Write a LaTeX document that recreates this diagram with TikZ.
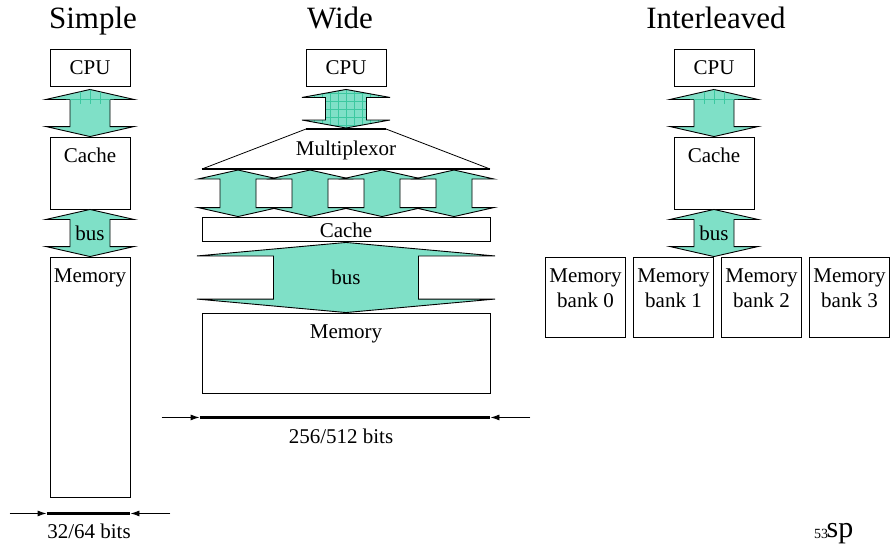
\documentclass[tikz,border=0pt]{standalone}
\usepackage{fontspec}
\setmainfont{Liberation Serif}
\usetikzlibrary{calc,arrows.meta}
\definecolor{busteal}{RGB}{127,224,199}
\definecolor{gridteal}{RGB}{60,200,160}

% Outline of a fat double-headed bus arrow running down from #1 to #2.
% #3 = half shaft width, #4 = half head width, #5 = head length (all in pt).
\newcommand\fatpath[5]{let \p1=(#1), \p2=(#2) in
  (\p1) -- (\x1+#4pt,\y1-#5pt) -- (\x1+#3pt,\y1-#5pt) -- (\x1+#3pt,\y2+#5pt)
  -- (\x1+#4pt,\y2+#5pt) -- (\x1,\y2) -- (\x1-#4pt,\y2+#5pt) -- (\x1-#3pt,\y2+#5pt)
  -- (\x1-#3pt,\y1-#5pt) -- (\x1-#4pt,\y1-#5pt) -- cycle}
\newcommand\fatarrow[5]{\draw[busarrow] \fatpath{#1}{#2}{#3}{#4}{#5};}

\begin{document}
\begin{tikzpicture}[x=1pt,y=-1pt,
  box/.style={draw,line width=0.9pt,fill=white,inner sep=0pt,minimum width=80pt,
              font=\fontsize{21}{25}\selectfont},
  lbl/.style={font=\fontsize{21}{25}\selectfont,anchor=base,inner sep=0pt},
  heading/.style={font=\fontsize{31}{36}\selectfont,anchor=base,inner sep=0pt},
  busarrow/.style={draw,line width=0.9pt,fill=busteal,line join=miter},
  gridline/.style={gridteal,line width=0.5pt},
  dimline/.style={line width=2.4pt},
  dimarrow/.style={line width=0.9pt,-{Latex[length=9pt,width=6pt]}}]

\useasboundingbox (0,0) rectangle (890,552);

% ---------------- Simple ----------------
\node[heading] (tA) at (93,28) {Simple};
\node[box,minimum height=37pt] (cpuA) at (90,67.5) {CPU};
\node[box,minimum height=72pt] (cacheA) at (90,173) {};
\node[lbl] at ($(cacheA.north)+(0,26)$) {Cache};
\node[box,minimum height=240pt] (memA) at (90,377) {};
\node[lbl] at ($(memA.north)+(0,26)$) {Memory};

\fatarrow{$(cpuA.south)+(0,3)$}{cacheA.north}{20}{44}{10}
\begin{scope}
  \clip (40,85) rectangle (140,104);
  \clip \fatpath{$(cpuA.south)+(0,3)$}{cacheA.north}{20}{44}{10};
  \foreach \gx in {80,90,100} \draw[gridline] (\gx,88) -- (\gx,104);
  \draw[gridline] (66,99) -- (114,99);
\end{scope}
\fatarrow{cacheA.south}{memA.north}{20}{44}{10}
\node[lbl] at (90,240) {bus};

\coordinate (dAL) at ($(memA.south west)+(-3,16)$);
\coordinate (dAR) at ($(memA.south east)+(0,16)$);
\coordinate (dALo) at ($(dAL)+(-37,0)$);
\coordinate (dARo) at ($(dAR)+(40,0)$);
\draw[dimline] (dAL) -- (dAR);
\draw[dimarrow] (dALo) -- (dAL);
\draw[dimarrow] (dARo) -- (dAR);
\node[lbl] at (89,538) {32/64 bits};

% ---------------- Wide ----------------
\node[heading] (tB) at (340,28) {Wide};
\node[box,minimum height=37pt] (cpuB) at (346,67.5) {CPU};

\coordinate (muxtl) at (306,129);
\coordinate (muxtr) at (386,129);
\coordinate (muxbl) at (202,169);
\coordinate (muxbr) at (490,169);
\coordinate (muxT) at ($(muxtl)!0.5!(muxtr)$);
\draw[line width=0.8pt] (muxbl) -- (muxtl) (muxtr) -- (muxbr);
\draw[line width=1.8pt] (muxtl) -- (muxtr) (muxbl) -- (muxbr);
\node[lbl] (mux) at (346,155) {Multiplexor};

\fill[busteal] \fatpath{$(cpuB.south)+(0,3)$}{$(muxT)+(0,-1)$}{20.5}{44}{8};
\begin{scope}
  \clip \fatpath{$(cpuB.south)+(0,3)$}{$(muxT)+(0,-1)$}{20.5}{44}{8};
  \foreach \gx in {306,314,...,386} \draw[gridline] (\gx,85) -- (\gx,132);
  \foreach \gy in {93,101,...,125} \draw[gridline] (298,\gy) -- (394,\gy);
\end{scope}
\draw[line width=0.9pt,line join=miter] \fatpath{$(cpuB.south)+(0,3)$}{$(muxT)+(0,-1)$}{20.5}{44}{8};

\node[box,minimum width=288pt,minimum height=24pt] (cacheB) at (346,229) {};
\node[lbl] at (346,237) {Cache};
\node[box,minimum width=288pt,minimum height=80pt] (memB) at (346,353) {};
\node[lbl] at ($(memB.north)+(0,26)$) {Memory};

\foreach \f in {0.125,0.375,0.625,0.875}{
  \fatarrow{$($(muxbl)!\f!(muxbr)$)+(0,1)$}{$(cacheB.north west)!\f!(cacheB.north east)$}{18}{40}{9}
}

\fatarrow{$(cacheB.south)+(0,1)$}{memB.north}{72.5}{149}{13.5}
\node[lbl] at (346,284) {bus};

\coordinate (dBL) at ($(memB.south west)+(-2,24)$);
\coordinate (dBR) at ($(memB.south east)+(0,24)$);
\coordinate (dBLo) at ($(dBL)+(-38,0)$);
\coordinate (dBRo) at ($(dBR)+(40,0)$);
\draw[dimline] (dBL) -- (dBR);
\draw[dimarrow] (dBLo) -- (dBL);
\draw[dimarrow] (dBRo) -- (dBR);
\node[lbl] at (341,443) {256/512 bits};

% ---------------- Interleaved ----------------
\node[heading] (tC) at (716,28) {Interleaved};
\node[box,minimum height=37pt] (cpuC) at (714,67.5) {CPU};
\node[box,minimum height=72pt] (cacheC) at (714,173) {};
\node[lbl] at ($(cacheC.north)+(0,26)$) {Cache};

\foreach \i/\cx in {0/585.5,1/673.5,2/761.5,3/849.5}{
  \node[box,minimum height=80pt] (bank\i) at (\cx,297) {};
  \node[lbl] at ($(bank\i.north)+(0,26)$) {Memory};
  \node[lbl] at ($(bank\i.north)+(0,51)$) {bank \i};
}

\fatarrow{$(cpuC.south)+(0,3)$}{cacheC.north}{20}{44}{10}
\begin{scope}
  \clip (664,85) rectangle (764,104);
  \clip \fatpath{$(cpuC.south)+(0,3)$}{cacheC.north}{20}{44}{10};
  \foreach \gx in {704,714,724} \draw[gridline] (\gx,88) -- (\gx,104);
  \draw[gridline] (690,99) -- (738,99);
\end{scope}
\coordinate (busCend) at (cacheC.south |- bank1.north);
\fatarrow{cacheC.south}{busCend}{20}{44}{10}
\node[lbl] at (714,240) {bus};

% ---------------- page footer ----------------
\node[font=\fontsize{14}{16}\selectfont,anchor=base,inner sep=0pt] (pg) at (821,538) {53};
\node[font=\fontsize{30}{34}\selectfont,anchor=base,inner sep=0pt] (sp) at (840,537) {sp};
\end{tikzpicture}
\end{document}
